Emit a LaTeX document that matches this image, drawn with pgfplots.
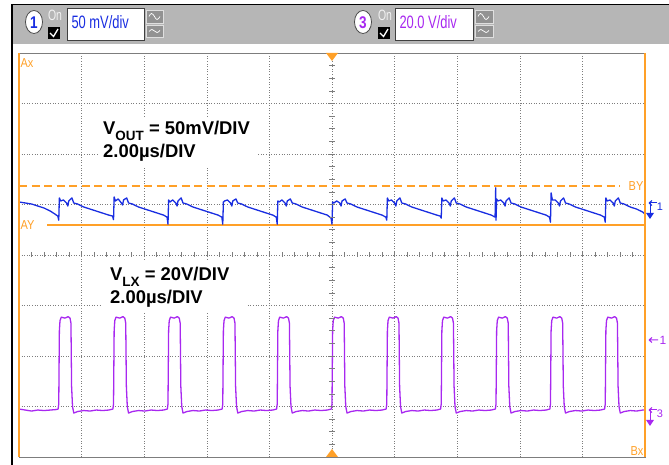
\documentclass[border=0pt]{standalone}
\usepackage{pgfplots}
\pgfplotsset{compat=1.18}
\usepackage{fontspec}
\setmainfont{Liberation Sans}
\definecolor{scopeblue}{RGB}{25,45,225}
\definecolor{scopepurple}{RGB}{168,40,240}
\definecolor{cursororange}{RGB}{255,160,40}
\definecolor{panel}{RGB}{182,182,182}
\definecolor{gridgray}{RGB}{125,125,125}

\begin{document}
\begin{tikzpicture}
\path[use as bounding box] (0,0) rectangle (669bp,465bp);

% header panel, screen pixels (origin top left)
\begin{scope}[shift={(0bp,465bp)},x=1bp,y=-1bp]
  \fill[panel] (12,5) rectangle (669,44);
  \draw[black, line width=1.6bp] (12,465) -- (12,4.5) -- (669,4.5);
  % channel 1
  \filldraw[fill=white, draw=black!70, line width=0.8bp] (34,22) ellipse (8.5 and 11.5);
  \node[scopeblue, font=\fontsize{17}{17}\selectfont\bfseries, xscale=0.8] at (34,22.5) {1};
  \node[white!90!gray, font=\fontsize{15}{15}\selectfont, xscale=0.7] at (55,15) {On};
  \fill[black] (48,27) rectangle (60,39);
  \draw[white, line width=1.3bp] (50,33) -- (53.5,36.5) -- (58,29);
  \filldraw[fill=white, draw=black!75, line width=0.8bp] (67,8) rectangle (144,40);
  \node[anchor=west, scopeblue, font=\fontsize{18}{18}\selectfont, xscale=0.72] at (69,22) {50 mV/div};
  \filldraw[fill=panel!80!black, draw=white!75!gray, line width=0.6bp] (146,10) rectangle (163,23);
  \filldraw[fill=panel!80!black, draw=white!75!gray, line width=0.6bp] (146,25) rectangle (163,37);
  \draw[white, line width=0.7bp] (149,16.5) sin (151.5,13.5) cos (154.5,16.5) sin (157,19.5) cos (160,16.5);
  \draw[white, line width=0.7bp] (149,31.5) sin (152,29.5) cos (154.5,31) sin (157,32.5) cos (160,30.5);
  % channel 3
  \filldraw[fill=white, draw=black!70, line width=0.8bp] (363,22) ellipse (8.5 and 11.5);
  \node[scopepurple, font=\fontsize{17}{17}\selectfont\bfseries, xscale=0.8] at (363,22.5) {3};
  \node[white!90!gray, font=\fontsize{15}{15}\selectfont, xscale=0.7] at (385,15) {On};
  \fill[black] (378,27) rectangle (390,39);
  \draw[white, line width=1.3bp] (380,33) -- (383.5,36.5) -- (388,29);
  \filldraw[fill=white, draw=black!75, line width=0.8bp] (395,8) rectangle (473,40);
  \node[anchor=west, scopepurple, font=\fontsize{18}{18}\selectfont, xscale=0.72] at (397,22) {20.0 V/div};
  \filldraw[fill=panel!80!black, draw=white!75!gray, line width=0.6bp] (475,10) rectangle (493,23);
  \filldraw[fill=panel!80!black, draw=white!75!gray, line width=0.6bp] (475,25) rectangle (493,37);
  \draw[white, line width=0.7bp] (478,16.5) sin (480.5,13.5) cos (483.5,16.5) sin (486,19.5) cos (489,16.5);
  \draw[white, line width=0.7bp] (478,31.5) sin (481,29.5) cos (483.5,31) sin (486,32.5) cos (489,30.5);
\end{scope}

\begin{axis}[
  at={(19bp,8bp)}, anchor=south west,
  width=626bp, height=404bp, scale only axis,
  xmin=-10, xmax=10, ymin=-4, ymax=4,
  xtick={-8,-6,...,8}, ytick={-3,...,3},
  xticklabels={}, yticklabels={},
  major tick length=0pt,
  grid=major,
  grid style={gridgray, line width=0.6bp, dash pattern=on 0.8bp off 1.8bp},
  axis line style={gridgray, line width=0.9bp},
]
  % cursors BY (dashed) and AY
  \addplot[color=cursororange, line width=1.6bp, dash pattern=on 8bp off 4.5bp] coordinates {(-10,1.37) (9.2,1.37)};
  \addplot[color=cursororange, line width=1.6bp] coordinates {(-9.1,0.59) (10,0.59)};

  % CH3: V_LX, 20 V/div (y in divisions, x in microseconds)
  \addplot[color=scopepurple, line width=1.3bp, line join=round] coordinates {
    (-10,-3.05) (-9.8,-3.07) (-9.6,-3.09) (-9.4,-3.07) (-9.2,-3.08) (-9.0,-3.07) (-8.8,-3.06)
    (-8.75,-3.05) (-8.73,-2.95) (-8.71,-1.50) (-8.69,-1.30) (-8.65,-1.23) (-8.53,-1.25) (-8.43,-1.22) (-8.37,-1.25) (-8.34,-1.35) (-8.32,-2.60) (-8.29,-3.00) (-8.25,-3.13) (-8.13,-3.10) (-7.93,-3.08) (-7.73,-3.09) (-7.53,-3.07) (-7.33,-3.08) (-7.13,-3.07)
    (-7.00,-3.05) (-6.98,-2.95) (-6.96,-1.50) (-6.94,-1.30) (-6.90,-1.23) (-6.78,-1.25) (-6.68,-1.22) (-6.62,-1.25) (-6.59,-1.35) (-6.57,-2.60) (-6.54,-3.00) (-6.50,-3.13) (-6.38,-3.10) (-6.18,-3.08) (-5.98,-3.09) (-5.78,-3.07) (-5.58,-3.08) (-5.38,-3.07)
    (-5.26,-3.05) (-5.24,-2.95) (-5.22,-1.50) (-5.20,-1.30) (-5.16,-1.23) (-5.04,-1.25) (-4.94,-1.22) (-4.88,-1.25) (-4.85,-1.35) (-4.83,-2.60) (-4.80,-3.00) (-4.76,-3.13) (-4.64,-3.10) (-4.44,-3.08) (-4.24,-3.09) (-4.04,-3.07) (-3.84,-3.08) (-3.64,-3.07)
    (-3.51,-3.05) (-3.49,-2.95) (-3.47,-1.50) (-3.45,-1.30) (-3.41,-1.23) (-3.29,-1.25) (-3.19,-1.22) (-3.13,-1.25) (-3.10,-1.35) (-3.08,-2.60) (-3.05,-3.00) (-3.01,-3.13) (-2.89,-3.10) (-2.69,-3.08) (-2.49,-3.09) (-2.29,-3.07) (-2.09,-3.08) (-1.89,-3.07)
    (-1.77,-3.05) (-1.75,-2.95) (-1.73,-1.50) (-1.71,-1.30) (-1.67,-1.23) (-1.55,-1.25) (-1.45,-1.22) (-1.39,-1.25) (-1.36,-1.35) (-1.34,-2.60) (-1.31,-3.00) (-1.27,-3.13) (-1.15,-3.10) (-0.95,-3.08) (-0.75,-3.09) (-0.55,-3.07) (-0.35,-3.08) (-0.15,-3.07)
    (-0.02,-3.05) (0.00,-2.95) (0.02,-1.50) (0.04,-1.30) (0.08,-1.23) (0.20,-1.25) (0.30,-1.22) (0.36,-1.25) (0.39,-1.35) (0.41,-2.60) (0.44,-3.00) (0.48,-3.13) (0.60,-3.10) (0.80,-3.08) (1.00,-3.09) (1.20,-3.07) (1.40,-3.08) (1.60,-3.07)
    (1.73,-3.05) (1.75,-2.95) (1.77,-1.50) (1.79,-1.30) (1.83,-1.23) (1.95,-1.25) (2.05,-1.22) (2.11,-1.25) (2.14,-1.35) (2.16,-2.60) (2.19,-3.00) (2.23,-3.13) (2.35,-3.10) (2.55,-3.08) (2.75,-3.09) (2.95,-3.07) (3.15,-3.08) (3.35,-3.07)
    (3.47,-3.05) (3.49,-2.95) (3.51,-1.50) (3.53,-1.30) (3.57,-1.23) (3.69,-1.25) (3.79,-1.22) (3.85,-1.25) (3.88,-1.35) (3.90,-2.60) (3.93,-3.00) (3.97,-3.13) (4.09,-3.10) (4.29,-3.08) (4.49,-3.09) (4.69,-3.07) (4.89,-3.08) (5.09,-3.07)
    (5.22,-3.05) (5.24,-2.95) (5.26,-1.50) (5.28,-1.30) (5.32,-1.23) (5.44,-1.25) (5.54,-1.22) (5.60,-1.25) (5.63,-1.35) (5.65,-2.60) (5.68,-3.00) (5.72,-3.13) (5.84,-3.10) (6.04,-3.08) (6.24,-3.09) (6.44,-3.07) (6.64,-3.08) (6.84,-3.07)
    (6.96,-3.05) (6.98,-2.95) (7.00,-1.50) (7.02,-1.30) (7.06,-1.23) (7.18,-1.25) (7.28,-1.22) (7.34,-1.25) (7.37,-1.35) (7.39,-2.60) (7.42,-3.00) (7.46,-3.13) (7.58,-3.10) (7.78,-3.08) (7.98,-3.09) (8.18,-3.07) (8.38,-3.08) (8.58,-3.07)
    (8.71,-3.05) (8.73,-2.95) (8.75,-1.50) (8.77,-1.30) (8.81,-1.23) (8.93,-1.25) (9.03,-1.22) (9.09,-1.25) (9.12,-1.35) (9.14,-2.60) (9.17,-3.00) (9.21,-3.13) (9.33,-3.10) (9.53,-3.08) (9.73,-3.09) (9.93,-3.07) (10.00,-3.07)
  };

  % CH1: V_OUT ripple, 50 mV/div
  \addplot[color=scopeblue, line width=1.3bp, line join=round] coordinates {
    (-10.00,1.05) (-9.80,1.03) (-9.60,1.01) (-9.40,0.97) (-9.20,0.93) (-9.00,0.87) (-8.85,0.81) (-8.76,0.77)
    (-8.73,0.69) (-8.71,1.13) (-8.67,1.07) (-8.58,1.09) (-8.48,1.03) (-8.44,0.97) (-8.41,1.07) (-8.31,1.13) (-8.25,1.03) (-8.13,1.01) (-7.93,0.95) (-7.73,0.91) (-7.53,0.87) (-7.33,0.83) (-7.13,0.79) (-7.01,0.77)
    (-6.98,0.70) (-6.96,1.15) (-6.92,1.07) (-6.83,1.11) (-6.73,1.03) (-6.69,0.99) (-6.66,1.09) (-6.56,1.13) (-6.50,1.03) (-6.38,1.01) (-6.18,0.95) (-5.98,0.91) (-5.78,0.87) (-5.58,0.83) (-5.38,0.79) (-5.27,0.75)
    (-5.24,0.61) (-5.22,1.09) (-5.18,1.05) (-5.09,1.09) (-4.99,1.03) (-4.95,0.97) (-4.92,1.07) (-4.82,1.13) (-4.76,1.03) (-4.64,1.01) (-4.44,0.95) (-4.24,0.91) (-4.04,0.87) (-3.84,0.83) (-3.64,0.79) (-3.52,0.75)
    (-3.49,0.61) (-3.47,1.05) (-3.43,1.07) (-3.34,1.09) (-3.24,1.03) (-3.20,0.97) (-3.17,1.07) (-3.07,1.11) (-3.01,1.03) (-2.89,1.01) (-2.69,0.95) (-2.49,0.91) (-2.29,0.87) (-2.09,0.83) (-1.89,0.79) (-1.78,0.75)
    (-1.75,0.61) (-1.73,1.07) (-1.69,1.05) (-1.60,1.09) (-1.50,1.03) (-1.46,0.97) (-1.43,1.07) (-1.33,1.11) (-1.27,1.03) (-1.15,1.01) (-0.95,0.95) (-0.75,0.91) (-0.55,0.87) (-0.35,0.83) (-0.15,0.79) (-0.03,0.73)
    (0.00,0.61) (0.02,1.05) (0.06,1.03) (0.15,1.07) (0.25,1.03) (0.29,0.97) (0.32,1.07) (0.42,1.11) (0.48,1.03) (0.60,1.01) (0.80,0.95) (1.00,0.91) (1.20,0.87) (1.40,0.83) (1.60,0.79) (1.72,0.75)
    (1.75,0.69) (1.77,1.13) (1.81,1.07) (1.90,1.09) (2.00,1.03) (2.04,0.97) (2.07,1.07) (2.17,1.13) (2.23,1.03) (2.35,1.01) (2.55,0.95) (2.75,0.91) (2.95,0.87) (3.15,0.83) (3.35,0.79) (3.46,0.77)
    (3.49,0.73) (3.51,1.13) (3.55,1.07) (3.64,1.09) (3.74,1.03) (3.78,0.97) (3.81,1.07) (3.91,1.13) (3.97,1.03) (4.09,1.01) (4.29,0.95) (4.49,0.91) (4.69,0.87) (4.89,0.83) (5.09,0.79) (5.21,0.75)
    (5.23,1.33) (5.24,0.69) (5.26,1.11) (5.30,1.07) (5.39,1.09) (5.49,1.03) (5.53,0.97) (5.56,1.07) (5.66,1.13) (5.72,1.03) (5.84,1.01) (6.04,0.95) (6.24,0.91) (6.44,0.87) (6.64,0.83) (6.84,0.79) (6.95,0.75)
    (6.98,0.65) (7.00,1.23) (7.04,1.09) (7.13,1.09) (7.23,1.03) (7.27,0.97) (7.30,1.07) (7.40,1.13) (7.46,1.03) (7.58,1.01) (7.78,0.95) (7.98,0.91) (8.18,0.87) (8.38,0.83) (8.58,0.79) (8.70,0.75)
    (8.73,0.65) (8.75,1.13) (8.79,1.07) (8.88,1.09) (8.98,1.03) (9.02,0.97) (9.05,1.07) (9.15,1.13) (9.21,1.03) (9.33,1.01) (9.53,0.95) (9.73,0.91) (9.93,0.85) (10.00,0.81)
  };
\end{axis}

% graticule details, cursor labels and notes, screen pixels again
\begin{scope}[shift={(0bp,465bp)},x=1bp,y=-1bp]
  \foreach \i in {1,...,49} \draw[gridgray, line width=0.6bp] ({19+12.52*\i},252.5) -- ({19+12.52*\i},257.5);
  \foreach \j in {1,...,31} \draw[gridgray, line width=0.6bp] (329,{53+12.625*\j}) -- (335,{53+12.625*\j});
  \draw[cursororange, line width=2bp] (19,53) -- (19,457);
  \draw[cursororange, line width=2bp] (645,53) -- (645,457);
  \fill[cursororange] (326,53) -- (338,53) -- (332,61) -- cycle;
  \fill[cursororange] (326,457) -- (338,457) -- (332,449) -- cycle;
  \node[anchor=west, cursororange, font=\fontsize{13}{13}\selectfont, xscale=0.85, inner sep=0.5bp] at (20,63) {Ax};
  \node[anchor=west, cursororange, fill=white, font=\fontsize{13}{13}\selectfont, xscale=0.85, inner sep=0.5bp] at (20,225) {AY};
  \node[anchor=east, cursororange, fill=white, font=\fontsize{13}{13}\selectfont, xscale=0.85, inner sep=0.5bp] at (644,186) {BY};
  \node[anchor=east, cursororange, font=\fontsize{13}{13}\selectfont, xscale=0.85, inner sep=0.5bp] at (644,451) {Bx};
  % notes
  \fill[white] (99,118) rectangle (258,167);
  \node[anchor=base west, inner sep=0pt, font=\fontsize{18.5}{19}\selectfont\bfseries] at (103,135)
    {V\raisebox{-0.28em}{\fontsize{13.5}{13.5}\selectfont OUT} = 50mV/DIV};
  \node[anchor=base west, inner sep=0pt, font=\fontsize{18.5}{19}\selectfont\bfseries] at (103,158) {2.00µs/DIV};
  \fill[white] (102,261) rectangle (247,312);
  \node[anchor=base west, inner sep=0pt, font=\fontsize{18.5}{19}\selectfont\bfseries] at (110,281)
    {V\raisebox{-0.28em}{\fontsize{13.5}{13.5}\selectfont LX} = 20V/DIV};
  \node[anchor=base west, inner sep=0pt, font=\fontsize{18.5}{19}\selectfont\bfseries] at (110,304) {2.00µs/DIV};
  % channel ground / reference markers at the right
  \draw[scopeblue, line width=1bp] (657,203) -- (650,203) -- (650,213);
  \fill[scopeblue] (646,213) -- (654,213) -- (650,219) -- cycle;
  \draw[scopeblue, line width=1bp] (649,203) -- (652,200.5) (649,203) -- (652,205.5);
  \node[scopeblue, font=\fontsize{11}{11}\selectfont, inner sep=0pt] at (660,207) {1};
  \draw[scopepurple, line width=1bp] (658,340) -- (649,340) (649,340) -- (652,337.5) (649,340) -- (652,342.5);
  \node[scopepurple, font=\fontsize{12}{12}\selectfont, inner sep=0pt] at (663,340) {1};
  \draw[scopepurple, line width=1bp] (657,410) -- (650,410) -- (650,420);
  \fill[scopepurple] (646,420) -- (654,420) -- (650,426) -- cycle;
  \draw[scopepurple, line width=1bp] (649,410) -- (652,407.5) (649,410) -- (652,412.5);
  \node[scopepurple, font=\fontsize{11}{11}\selectfont, inner sep=0pt] at (660,414) {3};
\end{scope}
\end{tikzpicture}
\end{document}
